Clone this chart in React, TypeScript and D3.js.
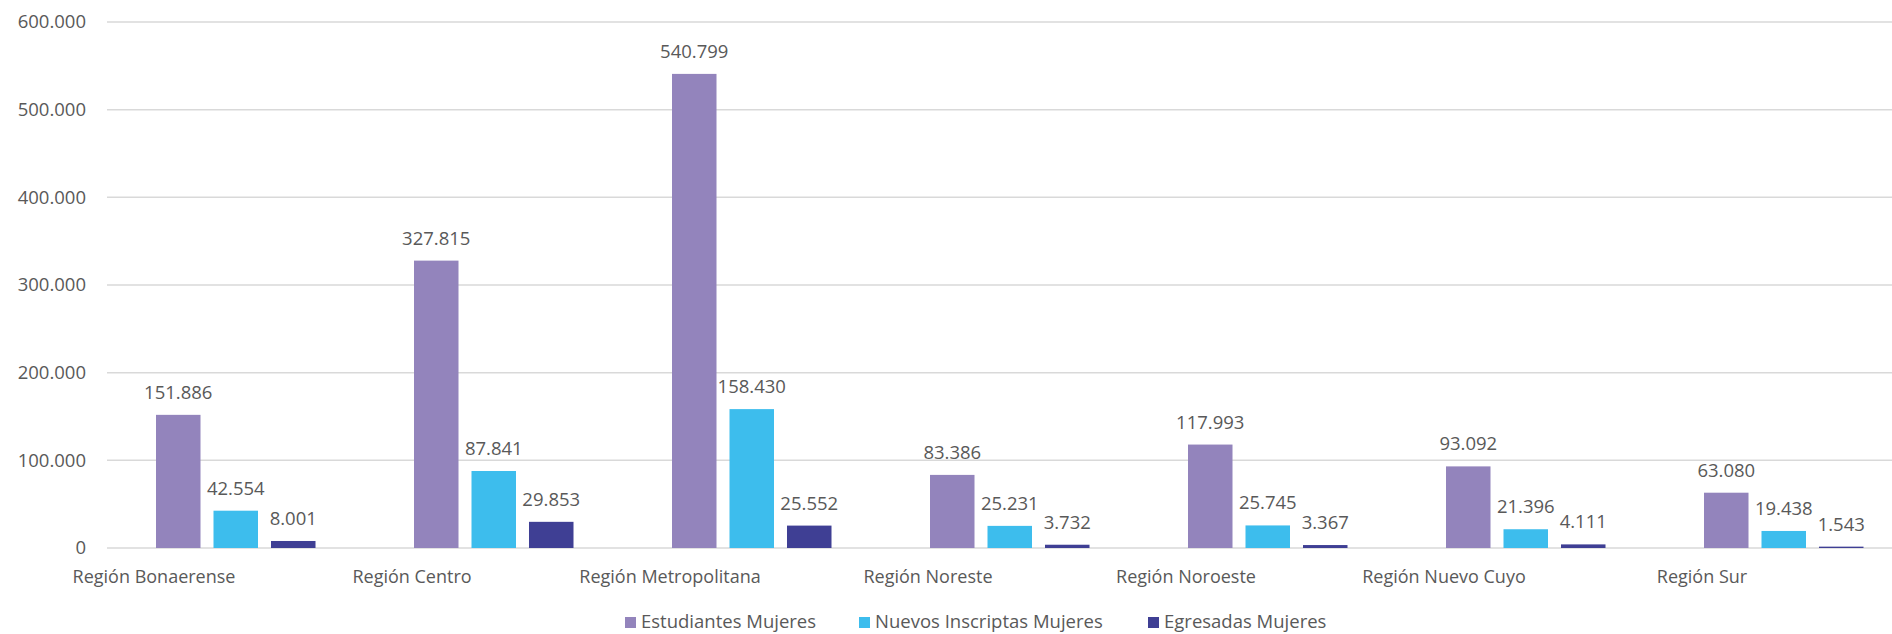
import React from "react";
import * as d3 from "d3";

const categories = [
  "Región Bonaerense",
  "Región Centro",
  "Región Metropolitana",
  "Región Noreste",
  "Región Noroeste",
  "Región Nuevo Cuyo",
  "Región Sur",
];
const seriesNames = ["Estudiantes Mujeres", "Nuevos Inscriptas Mujeres", "Egresadas Mujeres"];
const estudiantes = [151886, 327815, 540799, 83386, 117993, 93092, 63080];
const nuevos = [42554, 87841, 158430, 25231, 25745, 21396, 19438];
const egresadas = [8001, 29853, 25552, 3732, 3367, 4111, 1543];
const seriesValues = [estudiantes, nuevos, egresadas];
const colors = ["#9384BC", "#3DBDED", "#3F3F94"];
const yTicks = [0, 100000, 200000, 300000, 400000, 500000, 600000];

const W = 1892;
const H = 634;
const FONT = "'Open Sans', sans-serif";
const TXT = "#595959";

const fmt = (v: number) => {
  const s = Math.round(v).toString();
  return s.replace(/\B(?=(\d{3})+(?!\d))/g, ".");
};

export default function App() {
  const x0 = d3.scaleBand<string>().domain(categories).range([107, 1913]).paddingInner(0).paddingOuter(0);
  const x1 = d3.scaleBand<string>().domain(seriesNames).range([49, 208.5]).paddingInner(0.226).paddingOuter(0);
  const y = d3.scaleLinear().domain([0, 600000]).range([548, 22]);

  const legendX = [625, 859, 1148];

  return (
    <svg
      width={W}
      height={H}
      style={{ position: "absolute", left: 0, top: 0, background: "#fff" }}
      fontFamily={FONT}
    >
      {yTicks.map((t) => (
        <g key={t}>
          <line x1={107} x2={W} y1={y(t)} y2={y(t)} stroke="#D9D9D9" strokeWidth={1.5} />
          <text x={86} y={y(t)} dy="0.35em" textAnchor="end" fontSize={18.5} fill={TXT}>
            {fmt(t)}
          </text>
        </g>
      ))}
      {categories.map((c, ci) => (
        <g key={c} transform={`translate(${x0(c)},0)`}>
          {seriesNames.map((s, si) => {
            const v = seriesValues[si][ci];
            const bx = x1(s)!;
            return (
              <g key={s}>
                <rect x={bx} y={y(v)} width={x1.bandwidth()} height={y(0) - y(v)} fill={colors[si]} />
                <text
                  x={bx + x1.bandwidth() / 2}
                  y={y(v) - 16}
                  textAnchor="middle"
                  fontSize={18.5}
                  fill={TXT}
                >
                  {fmt(v)}
                </text>
              </g>
            );
          })}
          <text x={x0.bandwidth() / 2 - 82} y={583} textAnchor="middle" fontSize={18} fill={TXT}>
            {c}
          </text>
        </g>
      ))}
      {seriesNames.map((s, si) => (
        <g key={s} transform={`translate(${legendX[si]},617)`}>
          <rect x={0} y={0} width={11} height={11} fill={colors[si]} />
          <text x={16} y={11} fontSize={18.5} fill={TXT}>
            {s}
          </text>
        </g>
      ))}
    </svg>
  );
}
